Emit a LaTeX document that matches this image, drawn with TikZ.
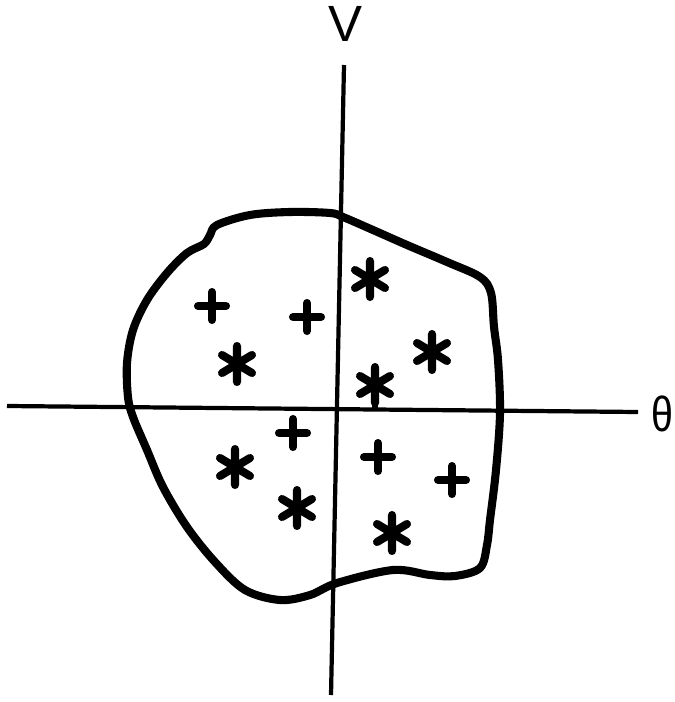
\documentclass[tikz,border=0pt]{standalone}
\usepackage{fontspec}
\setmainfont{Liberation Sans}
\begin{document}
\begin{tikzpicture}[x=0.02cm,y=-0.02cm,
  axisline/.style={line width=2.4pt},
  outline/.style={line width=4.6pt,line join=round},
  markline/.style={line width=4.6pt,line cap=round},
  pluspic/.pic={\draw[markline] (-14,0) -- (14,0) (0,-14) -- (0,14);},
  starpic/.pic={\draw[markline] (0,-18) -- (0,18) (-15,-9) -- (15,9) (-15,9) -- (15,-9);},
  lbl/.style={inner sep=0pt,font=\fontsize{29}{30}\selectfont}]
\useasboundingbox (0,0) rectangle (675,702);
% axes
\coordinate (vtop) at (344,65);
\coordinate (vbot) at (331,695);
\coordinate (hleft) at (7,406);
\coordinate (hright) at (638,412);
\draw[axisline] (vtop) -- (vbot);
\draw[axisline] (hleft) -- (hright);
\node[lbl] (vlab) at (345,24) {V};
\node[lbl,font=\fontsize{28}{29}\selectfont,xscale=0.8] (thlab) at (662,414) {θ};
% region outline
\draw[outline] plot[smooth cycle,tension=0.55] coordinates {
 (217,225) (250,215) (290,212) (330,213) (343,217) (373,230) (407,245)
 (447,262) (480,277) (491,293) (494,327) (498,360) (500,413) (496,470)
 (490,520) (487,545) (480,568) (455,576) (430,575) (393,570) (337,583)
 (310,595) (280,600) (245,590) (215,562) (187,527) (163,487)
 (147,450) (133,417) (128,397) (127,363) (133,330) (147,300) (167,273)
 (187,253) (204,244) (210,235)};
% plus marks
\pic at (212,306) {pluspic};
\pic at (307,317) {pluspic};
\pic at (293,433) {pluspic};
\pic at (378,457) {pluspic};
\pic at (452,480) {pluspic};
% asterisks
\pic at (237,364) {starpic};
\pic at (370,279) {starpic};
\pic at (432,352) {starpic};
\pic at (375,385) {starpic};
\pic at (235,467) {starpic};
\pic at (297,508) {starpic};
\pic at (392,533) {starpic};
\coordinate (stemtop) at (375,395);
\coordinate (stembot) at (375,409);
\draw[line width=3pt] (stemtop) -- (stembot);
\end{tikzpicture}
\end{document}
